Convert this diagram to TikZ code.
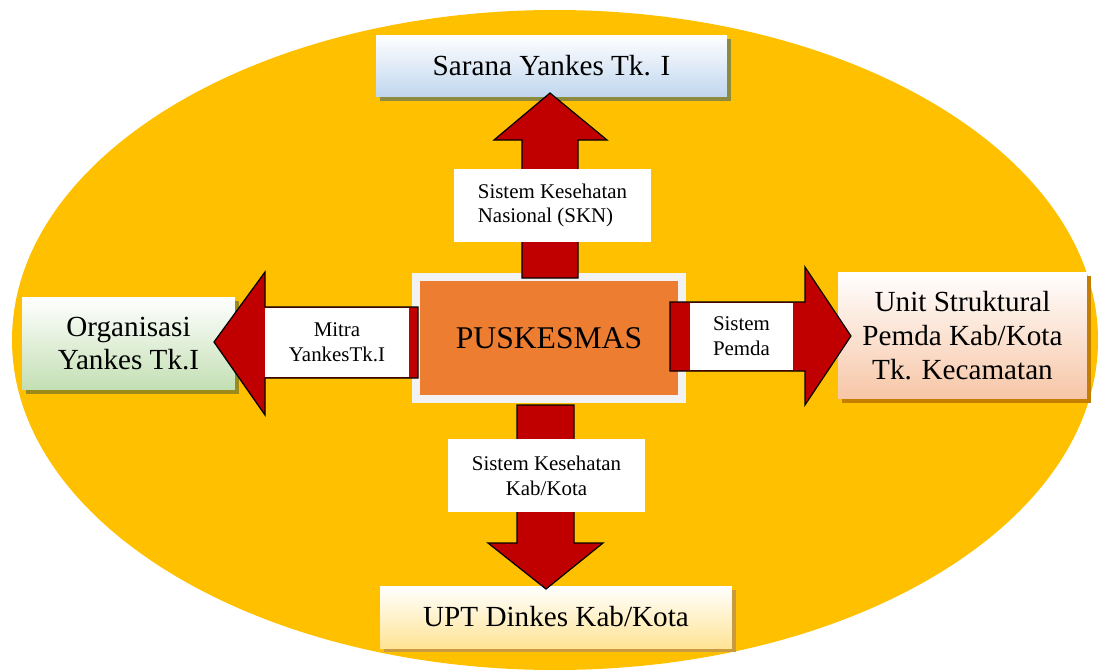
\documentclass[tikz,border=0pt]{standalone}
\usepackage{fontspec}
\setmainfont{Liberation Serif}
\usetikzlibrary{shadows}
\definecolor{ellyellow}{HTML}{FFC000}
\definecolor{arrred}{HTML}{C00000}
\definecolor{puskorange}{HTML}{ED7D31}
\definecolor{framegray}{HTML}{F2F2F2}
\definecolor{lblue}{HTML}{C0D6EE}
\definecolor{lgreen}{HTML}{C3DFB3}
\definecolor{lpeach}{HTML}{F7C6A6}
\definecolor{lyellow}{HTML}{FFE495}
\definecolor{shOlive}{HTML}{8E8A3E}
\definecolor{shGreen}{HTML}{9C8A1A}
\definecolor{shBrown}{HTML}{C47E00}
\definecolor{shTan}{HTML}{C99A40}
\definecolor{shCenter}{HTML}{C68F00}
\tikzset{
  outerbox/.style={inner sep=0pt, outer sep=0pt, align=center, text=black,
    font=\fontsize{16.6}{18.6}\selectfont},
  shad/.style={drop shadow={shadow xshift=2.4pt, shadow yshift=-2.4pt, fill=#1, opacity=1}},
  labelbox/.style={fill=white, inner sep=0pt, outer sep=0pt, align=center,
    font=\fontsize{11.9}{14.2}\selectfont},
  bigarrow/.style={fill=arrred, draw=black, line width=0.7pt, line join=miter},
}
\begin{document}
\begin{tikzpicture}[x=0.02cm, y=-0.02cm]
\useasboundingbox (0,0) rectangle (1100,670);
% background ellipse
\fill[ellyellow] (555,340) ellipse [x radius=543, y radius=330];

% outer boxes
\node[outerbox, shad=shOlive, top color=white, bottom color=lblue,
  minimum width=7.02cm, minimum height=1.24cm] (sarana) at (551.5,66) {Sarana Yankes Tk. I};
\node[outerbox, shad=shGreen, top color=white, bottom color=lgreen,
  minimum width=4.26cm, minimum height=1.86cm] (organisasi) at (128.5,343.5) {Organisasi\\Yankes Tk.I};
\node[outerbox, shad=shBrown, top color=white, bottom color=lpeach,
  minimum width=4.98cm, minimum height=2.54cm, font=\fontsize{16.6}{19.3}\selectfont] (unit) at (962.5,335.5) {Unit Struktural\\Pemda Kab/Kota\\Tk. Kecamatan};
\node[outerbox, shad=shTan, top color=white, bottom color=lyellow,
  minimum width=7.04cm, minimum height=1.24cm] (upt) at (556,617) {UPT Dinkes Kab/Kota};

% center
\node[shad=shCenter, fill=puskorange, draw=framegray, line width=4.536pt,
  inner sep=0pt, outer sep=0pt, minimum width=5.32cm, minimum height=2.44cm,
  font=\fontsize{18}{20}\selectfont] (pusk) at (549,338) {PUSKESMAS};

% block arrows
\draw[bigarrow] (522,278) -- (522,140) -- (494,140) -- (550,93) -- (607,140) -- (578,140) -- (578,278) -- cycle;
\draw[bigarrow] (517,405) -- (517,543) -- (488,543) -- (546,589) -- (603,543) -- (574,543) -- (574,405) -- cycle;
\draw[bigarrow] (418,307) -- (265,307) -- (265,272) -- (214,342) -- (265,415) -- (265,378) -- (418,378) -- cycle;
\draw[bigarrow] (670,302) -- (805,302) -- (805,267) -- (851,336) -- (805,405) -- (805,371) -- (670,371) -- cycle;

% labels on arrows
\node[labelbox, minimum width=3.94cm, minimum height=1.46cm] (skn) at (552.5,205.5)
  {\begin{tabular}{@{}l@{}}Sistem Kesehatan\\Nasional (SKN)\end{tabular}};
\node[labelbox, minimum width=3.94cm, minimum height=1.46cm] (skkab) at (546.5,475.5)
  {Sistem Kesehatan\\Kab/Kota};
\node[labelbox, minimum width=2.88cm, minimum height=1.38cm] (mitra) at (337,342.5)
  {Mitra\\YankesTk.I};
\node[labelbox, minimum width=2.06cm, minimum height=1.34cm] (pemda) at (741.5,336.5)
  {Sistem\\Pemda};
\end{tikzpicture}
\end{document}
